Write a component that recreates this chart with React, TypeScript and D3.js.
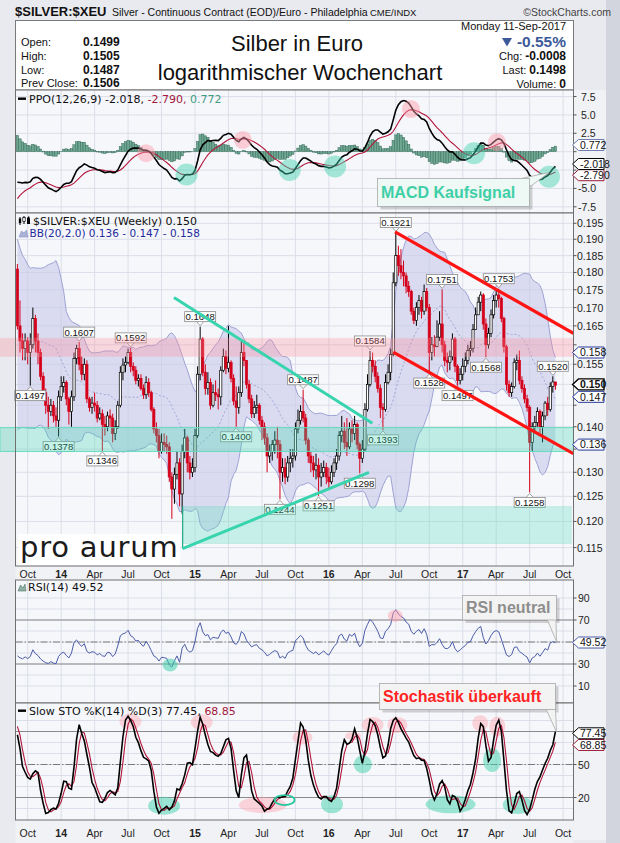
import React from "react";
import * as d3 from "d3";

// ---------------- data ----------------
const startDate = new Date(2013, 8, 9); // first weekly bar: Mon 9-Sep-2013

// weeks before the visible window (Mar-Sep 2013), only used to warm up the indicators
const priorClose = [0.221, 0.222, 0.221, 0.210, 0.197, 0.176, 0.184, 0.184, 0.180, 0.173, 0.175, 0.171, 0.165, 0.163, 0.152, 0.151, 0.150, 0.151, 0.152, 0.149, 0.147, 0.152, 0.175, 0.179, 0.178, 0.181];
const priorHigh = [0.224, 0.225, 0.224, 0.222, 0.213, 0.197, 0.187, 0.189, 0.186, 0.181, 0.178, 0.178, 0.173, 0.167, 0.165, 0.153, 0.153, 0.155, 0.155, 0.156, 0.152, 0.154, 0.176, 0.182, 0.185, 0.183];
const priorLow = [0.218, 0.219, 0.219, 0.207, 0.196, 0.168, 0.174, 0.180, 0.179, 0.170, 0.170, 0.170, 0.164, 0.161, 0.150, 0.140, 0.145, 0.146, 0.148, 0.148, 0.145, 0.145, 0.151, 0.171, 0.175, 0.174];

const firstOpen = 0.181;
const weeklyClose = [
  0.165, 0.161, 0.159, 0.161, 0.158, 0.160, 0.167, 0.161, 0.158, 0.152,
  0.148, 0.145, 0.1435, 0.145, 0.1425, 0.1415, 0.147, 0.1495, 0.1505, 0.1465,
  0.1435, 0.147, 0.1565, 0.159, 0.155, 0.1525, 0.155, 0.1465, 0.1445, 0.1455,
  0.145, 0.142, 0.143, 0.1405, 0.140, 0.1425, 0.142, 0.1385, 0.140, 0.145,
  0.153, 0.1548, 0.1555, 0.158, 0.1545, 0.1535, 0.151, 0.1515, 0.149, 0.1475,
  0.1505, 0.148, 0.144, 0.1395, 0.138, 0.1345, 0.1365, 0.136, 0.1355, 0.129,
  0.1265, 0.1295, 0.132, 0.1255, 0.1345, 0.1375, 0.132, 0.130, 0.131, 0.138,
  0.1525, 0.1615, 0.153, 0.149, 0.1505, 0.145, 0.148, 0.1475, 0.147, 0.1535,
  0.157, 0.154, 0.1555, 0.1515, 0.146, 0.1445, 0.148, 0.158, 0.156, 0.150,
  0.1465, 0.143, 0.1445, 0.145, 0.1415, 0.140, 0.1375, 0.1335, 0.1345, 0.136,
  0.137, 0.136, 0.130, 0.131, 0.129, 0.132, 0.133, 0.1335, 0.1395, 0.1415,
  0.1435, 0.142, 0.137, 0.1335, 0.132, 0.1305, 0.1315, 0.129, 0.130, 0.131,
  0.129, 0.128, 0.130, 0.132, 0.1335, 0.138, 0.139, 0.1365, 0.1355, 0.1395,
  0.1385, 0.1405, 0.136, 0.133, 0.135, 0.144, 0.150, 0.156, 0.1545, 0.152,
  0.149, 0.1445, 0.144, 0.1505, 0.153, 0.1575, 0.177, 0.185, 0.182, 0.180,
  0.179, 0.176, 0.1745, 0.169, 0.1665, 0.170, 0.172, 0.169, 0.1745, 0.170,
  0.158, 0.160, 0.1595, 0.162, 0.1655, 0.160, 0.156, 0.1555, 0.157, 0.1615,
  0.1545, 0.151, 0.1525, 0.1545, 0.156, 0.1585, 0.159, 0.164, 0.168, 0.1715,
  0.1735, 0.1655, 0.160, 0.163, 0.168, 0.172, 0.1735, 0.1725, 0.167, 0.1595,
  0.150, 0.148, 0.1495, 0.1555, 0.156, 0.151, 0.149, 0.1465, 0.1445, 0.1365,
  0.140, 0.141, 0.1435, 0.140, 0.1425, 0.1455, 0.144, 0.1495, 0.1506, 0.1498,
];
const weeklyHigh = [
  0.1825, 0.172, 0.163, 0.163, 0.162, 0.163, 0.170, 0.168, 0.163, 0.159,
  0.153, 0.149, 0.147, 0.1465, 0.146, 0.1445, 0.1485, 0.152, 0.152, 0.151,
  0.147, 0.1485, 0.158, 0.160, 0.1607, 0.157, 0.1565, 0.156, 0.147, 0.147,
  0.148, 0.146, 0.1445, 0.144, 0.1425, 0.1435, 0.144, 0.143, 0.1415, 0.146,
  0.1545, 0.1565, 0.157, 0.159, 0.1592, 0.1555, 0.1545, 0.1525, 0.1525, 0.150,
  0.152, 0.1515, 0.1485, 0.1445, 0.141, 0.1395, 0.1385, 0.1385, 0.138, 0.1365,
  0.130, 0.131, 0.1345, 0.133, 0.136, 0.1395, 0.138, 0.1335, 0.133, 0.1395,
  0.1545, 0.1648, 0.162, 0.155, 0.153, 0.1515, 0.150, 0.151, 0.149, 0.1545,
  0.159, 0.1585, 0.165, 0.156, 0.1525, 0.1495, 0.1495, 0.161, 0.161, 0.156,
  0.151, 0.1475, 0.146, 0.1475, 0.1455, 0.1425, 0.141, 0.1385, 0.136, 0.137,
  0.139, 0.140, 0.137, 0.133, 0.133, 0.1335, 0.135, 0.135, 0.141, 0.144,
  0.145, 0.1487, 0.143, 0.1375, 0.1345, 0.1335, 0.134, 0.133, 0.132, 0.1325,
  0.132, 0.131, 0.1315, 0.133, 0.135, 0.139, 0.1425, 0.141, 0.142, 0.141,
  0.1415, 0.1425, 0.141, 0.1365, 0.137, 0.1455, 0.1525, 0.1584, 0.158, 0.156,
  0.153, 0.150, 0.1455, 0.1525, 0.155, 0.159, 0.180, 0.1921, 0.188, 0.187,
  0.1835, 0.180, 0.1775, 0.175, 0.170, 0.1715, 0.1735, 0.173, 0.1765, 0.1755,
  0.171, 0.162, 0.1625, 0.1665, 0.169, 0.1751, 0.161, 0.158, 0.1585, 0.163,
  0.162, 0.155, 0.154, 0.1565, 0.158, 0.160, 0.161, 0.1655, 0.170, 0.173,
  0.1745, 0.174, 0.167, 0.1645, 0.1695, 0.1735, 0.175, 0.1753, 0.173, 0.1675,
  0.160, 0.151, 0.1505, 0.1565, 0.1575, 0.1585, 0.152, 0.150, 0.1475, 0.145,
  0.141, 0.1425, 0.1445, 0.144, 0.1435, 0.146, 0.147, 0.1505, 0.152, 0.1505,
];
const weeklyLow = [
  0.164, 0.158, 0.156, 0.156, 0.155, 0.1497, 0.159, 0.158, 0.155, 0.151,
  0.146, 0.143, 0.1395, 0.1425, 0.141, 0.140, 0.1378, 0.146, 0.148, 0.145,
  0.1405, 0.140, 0.146, 0.155, 0.1535, 0.151, 0.151, 0.1455, 0.1435, 0.143,
  0.1435, 0.141, 0.1415, 0.1346, 0.138, 0.139, 0.140, 0.1365, 0.137, 0.1395,
  0.1445, 0.151, 0.153, 0.155, 0.153, 0.152, 0.150, 0.1495, 0.1485, 0.1465,
  0.1465, 0.147, 0.1435, 0.1385, 0.1365, 0.133, 0.134, 0.1345, 0.134, 0.128,
  0.1205, 0.1235, 0.1285, 0.123, 0.1215, 0.133, 0.130, 0.1285, 0.129, 0.130,
  0.1375, 0.151, 0.152, 0.1475, 0.1475, 0.144, 0.1445, 0.146, 0.144, 0.145,
  0.153, 0.1525, 0.153, 0.1505, 0.145, 0.140, 0.143, 0.147, 0.1545, 0.149,
  0.1455, 0.142, 0.142, 0.143, 0.1405, 0.137, 0.136, 0.130, 0.132, 0.1325,
  0.134, 0.133, 0.1244, 0.128, 0.1275, 0.128, 0.130, 0.131, 0.1325, 0.1385,
  0.1405, 0.141, 0.136, 0.132, 0.130, 0.129, 0.1285, 0.1251, 0.127, 0.129,
  0.1275, 0.1265, 0.1275, 0.129, 0.1305, 0.1325, 0.1365, 0.135, 0.1335, 0.135,
  0.1365, 0.137, 0.135, 0.1298, 0.132, 0.1345, 0.1435, 0.1495, 0.153, 0.1505,
  0.148, 0.142, 0.1393, 0.1435, 0.150, 0.151, 0.157, 0.176, 0.179, 0.178,
  0.176, 0.174, 0.173, 0.168, 0.1655, 0.165, 0.168, 0.167, 0.168, 0.169,
  0.1528, 0.156, 0.157, 0.1595, 0.161, 0.158, 0.1545, 0.153, 0.1535, 0.156,
  0.153, 0.1497, 0.150, 0.151, 0.153, 0.155, 0.157, 0.158, 0.164, 0.168,
  0.169, 0.164, 0.1568, 0.159, 0.162, 0.167, 0.170, 0.170, 0.166, 0.158,
  0.1485, 0.147, 0.147, 0.149, 0.1535, 0.150, 0.148, 0.1455, 0.1435, 0.1258,
  0.1345, 0.1385, 0.140, 0.1385, 0.1365, 0.1415, 0.1425, 0.1435, 0.148, 0.1487,
];

// weeks carrying a high / low value flag
const highFlagWeeks = [24, 44, 71, 111, 137, 147, 165, 187, 208];
const lowFlagWeeks = [5, 16, 33, 85, 102, 117, 133, 142, 160, 171, 182, 199];

// tick labels
const priceTicks = [0.115, 0.12, 0.125, 0.13, 0.135, 0.14, 0.145, 0.15, 0.155, 0.16, 0.165, 0.17, 0.175, 0.18, 0.185, 0.19, 0.195];
const ppoTicks = [7.5, 5, 2.5, 0, -2.5, -5, -7.5];
const rsiTicks = [90, 70, 50, 30, 10];
const stoTicks = [80, 50, 20];
const monthNames = ["Jan", "Feb", "Mar", "Apr", "May", "Jun", "Jul", "Aug", "Sep", "Oct", "Nov", "Dec"];

// header / legend values
const headerLabels = ["Open:", "High:", "Low:", "Prev Close:"];
const headerValues = ["0.1499", "0.1505", "0.1487", "0.1506"];
const ppoLegend = [-2.018, -2.79, 0.772];
const bbLegend = [0.136, 0.147, 0.158];
const lastClose = 0.15;
const rsiLast = 49.52;
const stoLegend = [77.45, 68.85];

// drawn annotations, in (week index, value)
const zoneWeeks = [-6.8, 216];
const pinkZone = [0.157, 0.1617];
const tealZone = [0.1345, 0.1398];
const supportBox = [64.2, 215.1, 0.1158, 0.1229];
const tealUpper = [[60.8, 0.1728], [137.9, 0.1408]];
const tealLower = [[64.2, 0.1148], [136.6, 0.13]];
const redUpper = [[146.7, 0.1923], [216, 0.163]];
const redLower = [[146, 0.1581], [216, 0.134]];
const ppoPink = [[50, -0.2], [87.6, 1.6], [152.9, 5.8], [186.3, 1.3]];
const ppoTeal = [[65.7, -3.1], [105.8, -2.5], [123.4, -2.0], [177.4, -0.2], [206.5, -3.4]];
const rsiPink = [[146.8, 73.9]];
const rsiTeal = [[59.3, 29.1]];
// [week, value, rx, ry]
const stoPink = [[43.9, 89, 11, 8], [71.6, 88.5, 11, 8], [110.7, 74.5, 10, 7], [130.4, 76, 8, 4], [138, 86, 11, 8], [147.6, 86, 10, 8], [179.8, 87.5, 8, 8], [186.4, 84.5, 8, 10], [95.3, 13.2, 24, 8]];
const stoTeal = [[57, 12.5, 16, 9], [122.2, 13.8, 11, 9], [134.2, 50.2, 9, 9], [168.3, 13.8, 25, 9], [184.4, 54, 9, 12], [194.4, 13.2, 15, 9]];
const stoRing = [103.8, 17.7, 10, 5];

const SANS = "'Liberation Sans', Arial, Helvetica, sans-serif";
const VERD = "'DejaVu Sans', Verdana, sans-serif";

const weekDate = (i: number) => d3.timeDay.offset(startDate, Math.round(i * 7));

export default function App() {
  const n = weeklyClose.length;
  const P = priorClose.length;
  const allC = priorClose.concat(weeklyClose);
  const allH = priorHigh.concat(weeklyHigh);
  const allL = priorLow.concat(weeklyLow);

  const ema = (a: number[], p: number) => {
    const k = 2 / (p + 1);
    const o: number[] = [];
    a.forEach((v, i) => o.push(i === 0 ? v : v * k + o[i - 1] * (1 - k)));
    return o;
  };
  const sma = (a: number[], p: number) => a.map((_, i) => d3.mean(a.slice(Math.max(0, i - p + 1), i + 1)) as number);

  const e12 = ema(allC, 12), e26 = ema(allC, 26);
  const ppoAll = allC.map((_, i) => ((e12[i] - e26[i]) / e26[i]) * 100);
  const sigAll = ema(ppoAll, 9);

  const rsiAll: number[] = allC.map(() => 50);
  let ag = 0, al = 0;
  for (let i = 1; i <= 14; i++) {
    const d = allC[i] - allC[i - 1];
    ag += Math.max(d, 0);
    al += Math.max(-d, 0);
  }
  ag /= 14; al /= 14;
  rsiAll[14] = 100 - 100 / (1 + ag / al);
  for (let i = 15; i < allC.length; i++) {
    const d = allC[i] - allC[i - 1];
    ag = (ag * 13 + Math.max(d, 0)) / 14;
    al = (al * 13 + Math.max(-d, 0)) / 14;
    rsiAll[i] = 100 - 100 / (1 + ag / al);
  }

  const fastK = allC.map((c, i) => {
    const s = Math.max(0, i - 13);
    const hh = d3.max(allH.slice(s, i + 1)) as number;
    const ll = d3.min(allL.slice(s, i + 1)) as number;
    return ((c - ll) / (hh - ll)) * 100;
  });
  const slowKAll = sma(fastK, 3);
  const slowDAll = sma(slowKAll, 3);

  const midAll = sma(allC, 20);
  const sdAll = allC.map((_, i) => {
    const s = allC.slice(Math.max(0, i - 19), i + 1);
    const m = d3.mean(s) as number;
    return Math.sqrt(d3.mean(s, (v) => (v - m) * (v - m)) as number);
  });

  const ppo = ppoAll.slice(P);
  const sig = sigAll.slice(P);
  const hist = ppo.map((v, i) => v - sig[i]);
  const rsi = rsiAll.slice(P);
  const stoK = slowKAll.slice(P);
  const stoD = slowDAll.slice(P);
  const bbMid = midAll.slice(P);
  const bbUp = bbMid.map((m, i) => m + 2 * sdAll[P + i]);
  const bbLo = bbMid.map((m, i) => m - 2 * sdAll[P + i]);
  const opens = weeklyClose.map((_, i) => (i === 0 ? firstOpen : weeklyClose[i - 1]));

  // layout
  const PL = 15.5, PR = 573.5;
  const ppoTop = 90, ppoBot = 213;
  const mainTop = 213, mainBot = 566;
  const rsiTop = 580, rsiBot = 703;
  const stoTop = 703, stoBot = 820;

  const x = d3.scaleLinear().domain([0, n - 1]).range([17.4, 555.4]);
  const yP = d3.scaleLog().domain([0.1116, 0.1983]).range([mainBot, mainTop]);
  const yPPO = d3.scaleLinear().domain([-8.34, 8.39]).range([ppoBot, ppoTop]);
  const yR = d3.scaleLinear().domain([0, 100]).range([697, 587]);
  const yS = d3.scaleLinear().domain([0, 100]).range([819.5, 709.5]);

  const monthTicks: { i: number; label: string; year: boolean }[] = [];
  for (let i = 1; i < n + 6; i++) {
    const d = weekDate(i), p = weekDate(i - 1);
    if (d.getMonth() !== p.getMonth() && d.getMonth() % 3 === 0) {
      monthTicks.push({ i, label: d.getMonth() === 0 ? String(d.getFullYear()).slice(2) : monthNames[d.getMonth()], year: d.getMonth() === 0 });
    }
  }

  const lineOf = (arr: number[], y: (v: number) => number) =>
    d3.line<number>().x((_, i) => x(i)).y((v) => y(v))(arr) as string;
  const bbArea = d3.area<number>().x((_, i) => x(i)).y0((_, i) => yP(bbLo[i])).y1((_, i) => yP(bbUp[i]))(bbMid) as string;
  const segment = (pts: number[][]) =>
    d3.line<number[]>().x((d) => x(d[0])).y((d) => yP(d[1]))(pts) as string;

  // tick labels hidden behind the value tags on the right axis
  const visible = (ty: number, tagYs: number[], gap = 8) => tagYs.every((y) => Math.abs(y - ty) >= gap);
  const mainTagYs = [...bbLegend, lastClose].map((v) => yP(v));
  const ppoTagYs = ppoLegend.map((v) => yPPO(v));
  const rsiTagYs = [yR(rsiLast)];
  const stoTagYs = stoLegend.map((v) => yS(v));

  const gridColor = "#d9dbe6";
  const vGrid = (top: number, bot: number, k: string) =>
    monthTicks.filter((t) => x(t.i) < PR).map((t) => (
      <line key={k + t.i} x1={x(t.i)} x2={x(t.i)} y1={top} y2={bot} stroke={gridColor} strokeWidth={0.9} />
    ));

  const tag = (y: number, text: string, stroke: string, key: string, bold = false, color = "#111") => (
    <g key={key}>
      <path d={`M${PR - 1},${y} L${PR + 5},${y - 5.5} L${604},${y - 5.5} L${604},${y + 5.5} L${PR + 5},${y + 5.5} Z`} fill="#fff" stroke={stroke} strokeWidth={bold ? 1.4 : 1} />
      <text x={PR + 6.5} y={y + 3.8} fontSize={10.5} fontFamily={SANS} fontWeight={bold ? "bold" : "normal"} fill={color}>{text}</text>
    </g>
  );

  const flag = (i: number, v: number, above: boolean, key: string) => {
    const cx = x(i), cy = yP(v);
    const w = 31, h = 10;
    const base = above ? cy - 5 : cy + 5;
    const by = above ? base - h : base;
    return (
      <g key={key}>
        <path d={`M${cx - 3.5},${base} L${cx},${above ? cy - 1 : cy + 1} L${cx + 3.5},${base}`} fill="#fff" stroke="#8a8a8a" strokeWidth={0.8} />
        <rect x={cx - w / 2} y={by} width={w} height={h} fill="#fff" stroke="#8a8a8a" strokeWidth={0.8} />
        <text x={cx} y={by + h - 1.6} fontSize={9.6} textAnchor="middle" fontFamily={SANS} fill="#111">{v.toFixed(4)}</text>
      </g>
    );
  };

  const callout = (bx: number, by: number, bw: number, bh: number, tail: string, text: string, color: string, fill: string, tx: number, ty: number, key: string) => (
    <g key={key}>
      <rect x={bx + 3} y={by + 3} width={bw} height={bh} fill="#000" opacity={0.16} />
      <path d={tail} fill={fill} stroke="#a9a9a9" strokeWidth={0.8} />
      <rect x={bx} y={by} width={bw} height={bh} fill={fill} stroke="#a9a9a9" strokeWidth={0.8} />
      <text x={tx} y={ty} fontSize={16} fontWeight="bold" fontFamily={SANS} fill={color}>{text}</text>
    </g>
  );

  return (
    <svg width={620} height={843} viewBox="0 0 620 843" style={{ position: "absolute", left: 0, top: 0, display: "block" }}>
      <defs>
        <clipPath id="cPPO"><rect x={PL} y={ppoTop} width={PR - PL} height={ppoBot - ppoTop} /></clipPath>
        <clipPath id="cMain"><rect x={PL} y={mainTop} width={PR - PL} height={mainBot - mainTop} /></clipPath>
        <clipPath id="cZone"><rect x={0} y={mainTop} width={PR} height={mainBot - mainTop} /></clipPath>
        <clipPath id="cRSI"><rect x={PL} y={rsiTop} width={PR - PL} height={rsiBot - rsiTop} /></clipPath>
        <clipPath id="cSTO"><rect x={PL} y={stoTop} width={PR - PL} height={stoBot - stoTop} /></clipPath>
      </defs>

      {/* backgrounds */}
      <rect x={0} y={0} width={620} height={843} fill="#e9eaef" />
      <rect x={606} y={0} width={14} height={843} fill="#d2d4de" />
      <rect x={PR} y={ppoTop} width={606 - PR} height={stoBot + 20 - ppoTop} fill="#f1f2f6" />
      <rect x={PL} y={mainBot} width={PR - PL} height={rsiTop - mainBot} fill="#f1f2f6" />
      <rect x={PL} y={stoBot} width={PR - PL} height={843 - stoBot} fill="#f1f2f6" />

      {/* title row */}
      <text x={15} y={16} fontSize={13} fontWeight="bold" fontFamily={SANS} fill="#111">$SILVER:$XEU</text>
      <text x={112} y={16} fontSize={10.5} fontFamily={SANS} fill="#111">Silver - Continuous Contract (EOD)/Euro - Philadelphia</text>
      <text x={370} y={16} fontSize={9.5} fontFamily={SANS} fill="#111">CME/INDX</text>
      <text x={611} y={16} fontSize={10.5} fontFamily={SANS} fill="#444" textAnchor="end">©StockCharts.com</text>

      {/* header box */}
      <rect x={PL} y={20.5} width={PR - PL} height={ppoTop - 20.5} fill="#ffffff" stroke="#7a7a7a" strokeWidth={1} />
      {headerLabels.map((l, k) => (
        <g key={l}>
          <text x={21} y={46 + k * 13.8} fontSize={11} fontFamily={SANS} fill="#111">{l}</text>
          <text x={83} y={46 + k * 13.8} fontSize={12} fontWeight="bold" fontFamily={SANS} fill="#111">{headerValues[k]}</text>
        </g>
      ))}
      <text x={297} y={51} fontSize={22} fontFamily={SANS} fill="#111" textAnchor="middle">Silber in Euro</text>
      <text x={300} y={80} fontSize={22} fontFamily={SANS} fill="#111" textAnchor="middle">logarithmischer Wochenchart</text>
      <text x={566} y={30} fontSize={11} fontFamily={SANS} fill="#111" textAnchor="end">Monday  11-Sep-2017</text>
      <path d="M502,38 L512,38 L507,46.5 Z" fill="#3c5a99" />
      <text x={566} y={47} fontSize={15.5} fontWeight="bold" fontFamily={SANS} fill="#3c5a99" textAnchor="end">-0.55%</text>
      <text x={566} y={60} fontSize={11} fontFamily={SANS} fill="#111" textAnchor="end">Chg: <tspan fontWeight="bold" fontSize={12}>-0.0008</tspan></text>
      <text x={566} y={74} fontSize={11} fontFamily={SANS} fill="#111" textAnchor="end">Last:  <tspan fontWeight="bold" fontSize={12}>0.1498</tspan></text>
      <text x={566} y={88} fontSize={11} fontFamily={SANS} fill="#111" textAnchor="end">Volume:      <tspan fontWeight="bold" fontSize={12}>0</tspan></text>

      {/* ---------- PPO panel ---------- */}
      <rect x={PL} y={ppoTop} width={PR - PL} height={ppoBot - ppoTop} fill="#f6f7fb" />
      {vGrid(ppoTop, ppoBot, "gp")}
      {ppoTicks.map((t) => (
        <line key={"hp" + t} x1={PL} x2={PR} y1={yPPO(t)} y2={yPPO(t)} stroke={gridColor} strokeWidth={0.9} />
      ))}
      <g clipPath="url(#cPPO)">
        {hist.map((h, i) => (
          <rect key={"h" + i} x={x(i) - 1.2} y={Math.min(yPPO(h), yPPO(0))} width={2.4} height={Math.max(0.3, Math.abs(yPPO(h) - yPPO(0)))} fill="#6fa892" stroke="#2f6453" strokeWidth={0.45} />
        ))}
        <path d={lineOf(sig, yPPO)} fill="none" stroke="#b3163a" strokeWidth={1.1} />
        <path d={lineOf(ppo, yPPO)} fill="none" stroke="#000" strokeWidth={1.6} />
        {ppoPink.map((d, k) => (
          <circle key={"pp" + k} cx={x(d[0])} cy={yPPO(d[1])} r={9} fill="#ff9aa8" opacity={0.45} />
        ))}
        {ppoTeal.map((d, k) => (
          <circle key={"pt" + k} cx={x(d[0])} cy={yPPO(d[1])} r={11} fill="#3fd1ac" opacity={0.45} />
        ))}
      </g>
      <rect x={PL} y={ppoTop} width={PR - PL} height={ppoBot - ppoTop} fill="none" stroke="#6f6f6f" strokeWidth={1} />
      {ppoTicks.map((t) => (
        <g key={"pl" + t}>
          <line x1={PR} x2={PR + 3} y1={yPPO(t)} y2={yPPO(t)} stroke="#555" />
          {visible(yPPO(t), ppoTagYs, 6.5) && (
            <text x={t < 0 ? 578 : 581} y={yPPO(t) + 4} fontSize={10.5} fontFamily={SANS} fill="#222">{t.toFixed(1)}</text>
          )}
        </g>
      ))}
      <rect x={18} y={97.5} width={8} height={2.4} fill="#000" />
      <text x={29} y={103} fontSize={11} fontFamily={VERD} fill="#111">
        PPO(12,26,9) {ppoLegend[0].toFixed(3)}, <tspan fill="#a3183a">{ppoLegend[1].toFixed(3)},</tspan> <tspan fill="#3f9c80">{ppoLegend[2].toFixed(3)}</tspan>
      </text>
      {tag(yPPO(ppoLegend[2]) - 1, ppoLegend[2].toFixed(3), "#6b7fb0", "t1")}
      {tag(yPPO(ppoLegend[1]) + 3, ppoLegend[1].toFixed(3), "#9c1c3c", "t2")}
      {tag(yPPO(ppoLegend[0]) - 2.5, ppoLegend[0].toFixed(3), "#000", "t3")}

      {/* ---------- main price panel ---------- */}
      <rect x={PL} y={mainTop} width={PR - PL} height={mainBot - mainTop} fill="#f6f7fb" />
      {vGrid(mainTop, mainBot, "gm")}
      {priceTicks.map((t) => (
        <line key={"hm" + t} x1={PL} x2={PR} y1={yP(t)} y2={yP(t)} stroke={gridColor} strokeWidth={0.9} />
      ))}
      <g clipPath="url(#cMain)">
        <path d={bbArea} fill="#c8cae8" opacity={0.62} />
        <path d={lineOf(bbUp, yP)} fill="none" stroke="#9ea2d4" strokeWidth={1} />
        <path d={lineOf(bbLo, yP)} fill="none" stroke="#9ea2d4" strokeWidth={1} />
        <path d={lineOf(bbMid, yP)} fill="none" stroke="#a2a5d6" strokeWidth={1} strokeDasharray="2,2" />
        {weeklyClose.map((c, i) => {
          const o = opens[i];
          const prev = i === 0 ? firstOpen : weeklyClose[i - 1];
          const col = c >= prev ? "#000" : "#d5001a";
          const hollow = c > o;
          const yt = yP(Math.max(o, c)), yb = yP(Math.min(o, c));
          return (
            <g key={"c" + i}>
              <line x1={x(i)} x2={x(i)} y1={yP(Math.max(weeklyHigh[i], o, c))} y2={yP(Math.min(weeklyLow[i], o, c))} stroke={col} strokeWidth={1} />
              <rect x={x(i) - 1.1} y={yt} width={2.2} height={Math.max(0.8, yb - yt)} fill={hollow ? "#fff" : col} stroke={col} strokeWidth={0.7} />
            </g>
          );
        })}
      </g>
      {highFlagWeeks.map((i) => flag(i, weeklyHigh[i], true, "fh" + i))}
      {lowFlagWeeks.map((i) => flag(i, weeklyLow[i], false, "fl" + i))}
      <g clipPath="url(#cZone)">
        <rect x={x(zoneWeeks[0])} y={yP(pinkZone[1])} width={x(zoneWeeks[1]) - x(zoneWeeks[0])} height={yP(pinkZone[0]) - yP(pinkZone[1])} fill="#ff8c9a" opacity={0.3} stroke="#f4a0aa" strokeWidth={1} />
        <rect x={x(zoneWeeks[0])} y={yP(tealZone[1])} width={x(zoneWeeks[1]) - x(zoneWeeks[0])} height={yP(tealZone[0]) - yP(tealZone[1])} fill="#3fd6b2" opacity={0.3} />
        <rect x={x(zoneWeeks[0])} y={yP(tealZone[1])} width={x(zoneWeeks[1]) - x(zoneWeeks[0])} height={yP(tealZone[0]) - yP(tealZone[1])} fill="none" stroke="#5fdcbc" strokeWidth={1} />
        <rect x={x(supportBox[0])} y={yP(supportBox[3])} width={x(supportBox[1]) - x(supportBox[0])} height={yP(supportBox[2]) - yP(supportBox[3])} fill="#5fe0c0" opacity={0.3} stroke="#39c9a4" strokeWidth={1} />
        <line x1={x(supportBox[0])} x2={x(supportBox[0])} y1={yP(supportBox[3])} y2={yP(tealLower[0][1])} stroke="#1fa884" strokeWidth={1.2} />
        <path d={segment(tealUpper)} stroke="#38d4ae" strokeWidth={3} fill="none" />
        <path d={segment(tealLower)} stroke="#38d4ae" strokeWidth={3} fill="none" />
        <path d={segment(redUpper)} stroke="#ff1414" strokeWidth={3.2} fill="none" />
        <path d={segment(redLower)} stroke="#ff1414" strokeWidth={3.2} fill="none" />
      </g>
      {/* legend */}
      <g>
        <line x1={20} x2={20} y1={217} y2={225} stroke="#000" />
        <rect x={18.8} y={218.5} width={2.4} height={4.5} fill="#000" />
        <line x1={24} x2={24} y1={216} y2={224} stroke="#000" />
        <rect x={22.8} y={217.5} width={2.4} height={4} fill="#fff" stroke="#000" strokeWidth={0.7} />
        <path d="M27,224 L27,218 L29,216 L30,219 L30,224 Z" fill="#000" />
        <text x={33} y={225} fontSize={11} fontFamily={VERD} fill="#111">$SILVER:$XEU (Weekly) {lastClose.toFixed(3)}</text>
        <path d="M19,237 L21.5,231 L24,233 L26.5,230 L28,237 Z" fill="#aab0d6" stroke="#8c93c7" strokeWidth={0.6} />
        <text x={29.5} y={237} fontSize={10.5} fontFamily={VERD} fill="#1e2b9c">BB(20,2.0) {bbLegend[0].toFixed(3)} - {bbLegend[1].toFixed(3)} - {bbLegend[2].toFixed(3)}</text>
      </g>
      {/* pro aurum logo */}
      <rect x={18} y={534} width={162} height={31} fill="#ffffff" />
      <text x={20} y={557} fontSize={29} fontFamily={VERD} fill="#1b1b1b" letterSpacing={0.8}>pro aurum</text>
      <rect x={PL} y={mainTop} width={PR - PL} height={mainBot - mainTop} fill="none" stroke="#6f6f6f" strokeWidth={1} />
      {priceTicks.map((t) => (
        <g key={"ml" + t}>
          <line x1={PR} x2={PR + 3} y1={yP(t)} y2={yP(t)} stroke="#555" />
          {visible(yP(t), mainTagYs, 9) && (
            <text x={577} y={yP(t) + 4} fontSize={10.5} fontFamily={SANS} fill="#222">{t.toFixed(3)}</text>
          )}
        </g>
      ))}
      {tag(yP(bbLegend[2]), bbLegend[2].toFixed(3), "#24389a", "m1")}
      {tag(yP(bbLegend[1]), bbLegend[1].toFixed(3), "#24389a", "m2")}
      {tag(yP(bbLegend[0]), bbLegend[0].toFixed(3), "#24389a", "m3")}
      {tag(yP(lastClose), lastClose.toFixed(3), "#000", "m4", true)}
      {monthTicks.map((t) => (
        <text key={"xa" + t.i} x={x(t.i)} y={577.5} fontSize={10.5} fontFamily={SANS} fontWeight={t.year ? "bold" : "normal"} textAnchor="middle" fill="#222">{t.label}</text>
      ))}

      {/* ---------- RSI panel ---------- */}
      <rect x={PL} y={rsiTop} width={PR - PL} height={rsiBot - rsiTop} fill="#f6f7fb" />
      {vGrid(rsiTop, rsiBot, "gr")}
      {d3.range(10, 100, 10).map((t) => (
        <line key={"hr" + t} x1={PL} x2={PR} y1={yR(t)} y2={yR(t)} stroke={gridColor} strokeWidth={0.9} />
      ))}
      <line x1={PL} x2={PR} y1={yR(70)} y2={yR(70)} stroke="#8a8a8a" strokeWidth={1.1} />
      <line x1={PL} x2={PR} y1={yR(30)} y2={yR(30)} stroke="#8a8a8a" strokeWidth={1.1} />
      <line x1={PL} x2={PR} y1={yR(50)} y2={yR(50)} stroke="#7a7a7a" strokeWidth={1} strokeDasharray="7,2,1.5,2" />
      <g clipPath="url(#cRSI)">
        <path d={lineOf(rsi, yR)} fill="none" stroke="#4b5ca6" strokeWidth={1} />
        {rsiPink.map((d, k) => <ellipse key={"rp" + k} cx={x(d[0])} cy={yR(d[1])} rx={7.5} ry={6} fill="#ff9aa8" opacity={0.45} />)}
        {rsiTeal.map((d, k) => <ellipse key={"rt" + k} cx={x(d[0])} cy={yR(d[1])} rx={7.5} ry={6.5} fill="#3fd1ac" opacity={0.55} />)}
      </g>
      <rect x={PL} y={rsiTop} width={PR - PL} height={rsiBot - rsiTop} fill="none" stroke="#6f6f6f" strokeWidth={1} />
      {rsiTicks.map((t) => (
        <g key={"rl" + t}>
          <line x1={PR} x2={PR + 3} y1={yR(t)} y2={yR(t)} stroke="#555" />
          {visible(yR(t), rsiTagYs) && (
            <text x={578} y={yR(t) + 4} fontSize={10.5} fontFamily={SANS} fill="#222">{t}</text>
          )}
        </g>
      ))}
      <path d="M18,591 L20.5,585 L23,588 L25,584 L26,591 Z" fill="#8fb0a4" stroke="#52786a" strokeWidth={0.6} />
      <text x={28} y={591} fontSize={11} fontFamily={VERD} fill="#111">RSI(14) {rsiLast.toFixed(2)}</text>
      {tag(yR(rsiLast), rsiLast.toFixed(2), "#4b5ca6", "r1")}

      {/* ---------- Slow stochastics panel ---------- */}
      <rect x={PL} y={stoTop} width={PR - PL} height={stoBot - stoTop} fill="#f6f7fb" />
      {vGrid(stoTop, stoBot, "gs")}
      {d3.range(10, 100, 10).map((t) => (
        <line key={"hs" + t} x1={PL} x2={PR} y1={yS(t)} y2={yS(t)} stroke={gridColor} strokeWidth={0.9} />
      ))}
      <line x1={PL} x2={PR} y1={yS(80)} y2={yS(80)} stroke="#8a8a8a" strokeWidth={1.1} />
      <line x1={PL} x2={PR} y1={yS(20)} y2={yS(20)} stroke="#8a8a8a" strokeWidth={1.1} />
      <line x1={PL} x2={PR} y1={yS(50)} y2={yS(50)} stroke="#7a7a7a" strokeWidth={1} strokeDasharray="7,2,1.5,2" />
      <g clipPath="url(#cSTO)">
        {stoPink.map((d, k) => <ellipse key={"sp" + k} cx={x(d[0])} cy={yS(d[1])} rx={d[2]} ry={d[3]} fill="#ffa0ac" opacity={0.42} />)}
        {stoTeal.map((d, k) => <ellipse key={"st" + k} cx={x(d[0])} cy={yS(d[1])} rx={d[2]} ry={d[3]} fill="#3fd1ac" opacity={0.5} />)}
        <path d={lineOf(stoD, yS)} fill="none" stroke="#b3163a" strokeWidth={1.1} />
        <path d={lineOf(stoK, yS)} fill="none" stroke="#000" strokeWidth={1.6} />
        <ellipse cx={x(stoRing[0])} cy={yS(stoRing[1])} rx={stoRing[2]} ry={stoRing[3]} fill="none" stroke="#26c79c" strokeWidth={1.8} />
      </g>
      <rect x={PL} y={stoTop} width={PR - PL} height={stoBot - stoTop} fill="none" stroke="#6f6f6f" strokeWidth={1} />
      {stoTicks.map((t) => (
        <g key={"sl" + t}>
          <line x1={PR} x2={PR + 3} y1={yS(t)} y2={yS(t)} stroke="#555" />
          {visible(yS(t), stoTagYs) && (
            <text x={578} y={yS(t) + 4} fontSize={10.5} fontFamily={SANS} fill="#222">{t}</text>
          )}
        </g>
      ))}
      <rect x={18} y={709.5} width={8} height={2.4} fill="#000" />
      <text x={29} y={715} fontSize={11} fontFamily={VERD} fill="#111">
        Slow STO %K(14) %D(3) {stoLegend[0].toFixed(2)}, <tspan fill="#a3183a">{stoLegend[1].toFixed(2)}</tspan>
      </text>
      {tag(yS(stoLegend[1]) + 1.2, stoLegend[1].toFixed(2), "#9c1c3c", "s2")}
      {tag(yS(stoLegend[0]) - 1, stoLegend[0].toFixed(2), "#000", "s1")}
      {monthTicks.map((t) => (
        <text key={"xb" + t.i} x={x(t.i)} y={837} fontSize={10.5} fontFamily={SANS} fontWeight={t.year ? "bold" : "normal"} textAnchor="middle" fill="#222">{t.label}</text>
      ))}

      {/* ---------- callouts ---------- */}
      {callout(377.5, 178.5, 152, 28, "M519,179 L531,186 L549,172.5 Z", "MACD Kaufsignal", "#3ecfa7", "#eef8f4", 381, 198, "c1")}
      {callout(462.5, 595.5, 94, 24.5, "M547,619 L556,619 L556.5,641.5 Z", "RSI neutral", "#8d8d8d", "#f3f3f3", 466, 613, "c2")}
      {callout(379.5, 683.5, 176, 26, "M546,709 L555.5,709 L556.5,732 Z", "Stochastik überkauft", "#ff2424", "#f3f3f3", 383, 702, "c3")}
    </svg>
  );
}
